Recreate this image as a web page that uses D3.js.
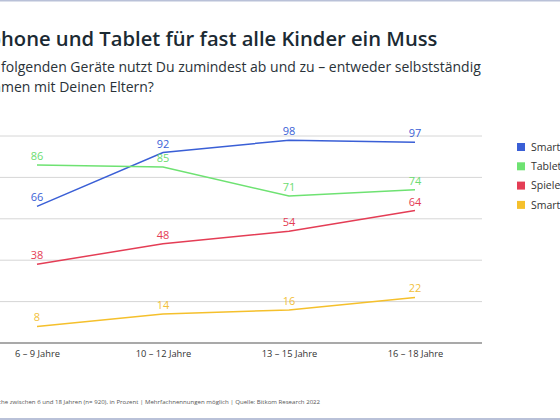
<!DOCTYPE html>
<html><head><meta charset="utf-8">
<script src="https://cdn.jsdelivr.net/npm/d3@7/dist/d3.min.js"></script>
<style>
html,body{margin:0;padding:0;background:#fff;overflow:hidden;}
svg{display:block;font-family:"Open Sans",sans-serif;}
svg text{white-space:pre;}
</style></head><body>
<svg id="c" width="560" height="420"></svg>
<script>
const categories = ["6 – 9 Jahre", "10 – 12 Jahre", "13 – 15 Jahre", "16 – 18 Jahre"];
const seriesNames = ["Smartphone", "Tablet", "Spielekonsole", "Smartwatch"];
const smartphone = [66, 92, 98, 97];
const tablet = [86, 85, 71, 74];
const spielekonsole = [38, 48, 54, 64];
const smartwatch = [8, 14, 16, 22];
const yTicks = [0, 20, 40, 60, 80, 100];
const colors = ["#3a5fd6", "#6ee272", "#e43d55", "#f5c02c"];
const labelColors = ["#3a5fd6", "#6cdc70", "#e43d55", "#f2bf3a"];
const titleText = "Smartphone und Tablet für fast alle Kinder ein Muss";
const titleCut = "Smartp";
const sub1 = "Welche der folgenden Geräte nutzt Du zumindest ab und zu – entweder selbstständig";
const sub1Cut = "Welche der ";
const sub2 = "oder zusammen mit Deinen Eltern?";
const sub2Cut = "oder zusam";
const footer = "Basis: Kinder und Jugendliche zwischen 6 und 18 Jahren (n= 920), in Prozent | Mehrfachnennungen möglich | Quelle: Bitkom Research 2022";
const footerCut = "Basis: Kinder und Jugendlic";

const series = [smartphone, tablet, spielekonsole, smartwatch];

function draw() {
const svg = d3.select("#c");

// frame lines
svg.append("rect").attr("x",0).attr("y",0).attr("width",560).attr("height",1.5).attr("fill","#b9c1d8");
svg.append("rect").attr("x",0).attr("y",418).attr("width",560).attr("height",2).attr("fill","#b9c1d8");

function cutText(str, cut, x, y, style) {
  const t = svg.append("text").attr("y", y);
  Object.entries(style).forEach(([k,v]) => t.style(k, v));
  t.text(str);
  const n = t.node();
  const w = n.getStartPositionOfChar(cut.length).x - n.getStartPositionOfChar(0).x;
  t.attr("x", x - w);
  return t;
}
cutText(titleText, titleCut, 1, 46, {"font-size":"20.2px","font-weight":"600","fill":"#1b2a33"});
cutText(sub1, sub1Cut, 1, 72, {"font-size":"14px","font-weight":"400","fill":"#2a3238"});
cutText(sub2, sub2Cut, 1, 92, {"font-size":"14px","font-weight":"400","fill":"#2a3238"});
cutText(footer, footerCut, 1, 404, {"font-size":"6.1px","font-weight":"400","fill":"#555"});

const x = d3.scalePoint().domain(categories).range([37, 415]);
const y = d3.scaleLinear().domain([0, 100]).range([343, 136]);

// gridlines
svg.append("g").selectAll("line").data(yTicks.filter(d => d > 0)).join("line")
  .attr("x1", -10).attr("x2", 482)
  .attr("y1", d => y(d)).attr("y2", d => y(d))
  .attr("stroke", "#d6d6d6").attr("stroke-width", 1);

// x axis
const xAxis = svg.append("g").attr("transform", `translate(0,${y(0)})`)
  .call(d3.axisBottom(x).tickSize(0).tickPadding(7));
xAxis.select(".domain").attr("d", "M-10,0H482").attr("stroke", "#555").attr("stroke-width", 1.2);
xAxis.selectAll("text").attr("font-family", "Open Sans").attr("font-size", "9.3px").attr("fill", "#333");

const line = d3.line().x((d, i) => x(categories[i])).y(d => y(d));
series.forEach((s, si) => {
  svg.append("path").datum(s).attr("d", line)
    .attr("fill", "none").attr("stroke", colors[si]).attr("stroke-width", 1.5);
  svg.append("g").selectAll("text").data(s).join("text")
    .attr("x", (d, i) => x(categories[i]))
    .attr("y", d => y(d) - 5)
    .attr("text-anchor", "middle")
    .attr("font-size", "11px")
    .attr("fill", labelColors[si])
    .text(d => d);
});

// legend
const lg = svg.append("g");
seriesNames.forEach((n, i) => {
  const yy = 147 + i * 19.3;
  lg.append("rect").attr("x", 517).attr("y", yy - 4).attr("width", 8).attr("height", 8).attr("fill", colors[i]);
  lg.append("text").attr("x", 531).attr("y", yy + 3.8).attr("font-size", "10.5px").attr("fill", "#333").text(n);
});
}

Promise.all([
  document.fonts.load("600 20px 'Open Sans'"),
  document.fonts.load("400 14px 'Open Sans'")
]).catch(() => {}).then(() => document.fonts.ready).then(draw);
</script>
</body></html>
